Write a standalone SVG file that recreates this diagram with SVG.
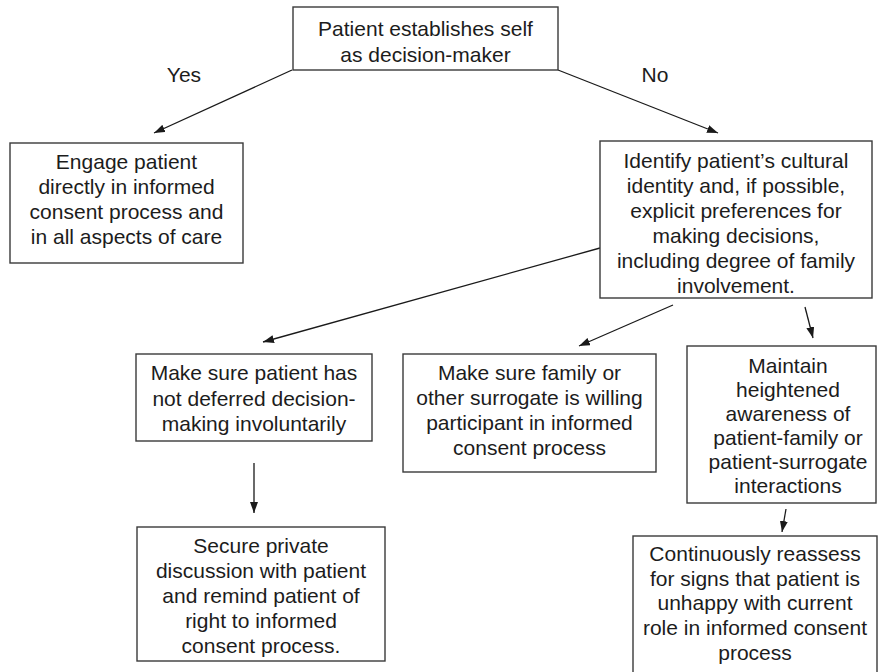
<svg xmlns="http://www.w3.org/2000/svg" width="879" height="672" viewBox="0 0 879 672">
  <style>
    .box { fill: #ffffff; stroke: #3a3a3a; stroke-width: 1.4; }
    .lbl { font-family: "Liberation Sans", Arial, sans-serif; font-size: 21px; fill: #1c1c1c; text-anchor: middle; }
    .edge { stroke: #1a1a1a; stroke-width: 1.3; fill: none; marker-end: url(#arrow); }
  </style>
  <defs>
    <marker id="arrow" markerUnits="userSpaceOnUse" markerWidth="12" markerHeight="8" refX="11" refY="4" orient="auto">
      <path d="M0,0 L11,4 L0,8 z" fill="#1a1a1a"/>
    </marker>
  </defs>
  <rect width="879" height="672" fill="#ffffff"/>

  <!-- connectors -->
  <g id="connectors">
    <line class="edge" x1="292" y1="70" x2="154" y2="133"/>
    <line class="edge" x1="558" y1="70" x2="718" y2="133"/>
    <line class="edge" x1="600" y1="248" x2="263" y2="342"/>
    <line class="edge" x1="673" y1="305" x2="579" y2="346"/>
    <line class="edge" x1="805" y1="307" x2="813" y2="338"/>
    <line class="edge" x1="254" y1="463" x2="254" y2="513"/>
    <line class="edge" x1="786" y1="509" x2="782" y2="532"/>
    <text class="lbl" x="184" y="82">Yes</text>
    <text class="lbl" x="655" y="82">No</text>
  </g>

  <g id="start">
    <rect class="box" x="293" y="7" width="265" height="63"/>
    <text class="lbl" x="425.5" y="36">Patient establishes self</text>
    <text class="lbl" x="425.5" y="62">as decision-maker</text>
  </g>

  <g id="engage">
    <rect class="box" x="10" y="143" width="233" height="120"/>
    <text class="lbl" x="126.5" y="169">Engage patient</text>
    <text class="lbl" x="126.5" y="194">directly in informed</text>
    <text class="lbl" x="126.5" y="219">consent process and</text>
    <text class="lbl" x="126.5" y="244">in all aspects of care</text>
  </g>

  <g id="identify">
    <rect class="box" x="600" y="141" width="272" height="157"/>
    <text class="lbl" x="736" y="168">Identify patient’s cultural</text>
    <text class="lbl" x="736" y="193">identity and, if possible,</text>
    <text class="lbl" x="736" y="218">explicit preferences for</text>
    <text class="lbl" x="736" y="243">making decisions,</text>
    <text class="lbl" x="736" y="268">including degree of family</text>
    <text class="lbl" x="736" y="293">involvement.</text>
  </g>

  <g id="not-deferred">
    <rect class="box" x="136" y="354" width="236" height="87"/>
    <text class="lbl" x="254" y="380">Make sure patient has</text>
    <text class="lbl" x="254" y="406">not deferred decision-</text>
    <text class="lbl" x="254" y="431">making involuntarily</text>
  </g>

  <g id="willing-surrogate">
    <rect class="box" x="403" y="354" width="253" height="118"/>
    <text class="lbl" x="529.5" y="380">Make sure family or</text>
    <text class="lbl" x="529.5" y="405">other surrogate is willing</text>
    <text class="lbl" x="529.5" y="430">participant in informed</text>
    <text class="lbl" x="529.5" y="455">consent process</text>
  </g>

  <g id="awareness">
    <rect class="box" x="687" y="346" width="189" height="157"/>
    <text class="lbl" x="788" y="373">Maintain</text>
    <text class="lbl" x="788" y="397">heightened</text>
    <text class="lbl" x="788" y="421">awareness of</text>
    <text class="lbl" x="788" y="445">patient-family or</text>
    <text class="lbl" x="788" y="469">patient-surrogate</text>
    <text class="lbl" x="788" y="493">interactions</text>
  </g>

  <g id="private-discussion">
    <rect class="box" x="137" y="527" width="248" height="134"/>
    <text class="lbl" x="261" y="553">Secure private</text>
    <text class="lbl" x="261" y="578">discussion with patient</text>
    <text class="lbl" x="261" y="603">and remind patient of</text>
    <text class="lbl" x="261" y="628">right to informed</text>
    <text class="lbl" x="261" y="653">consent process.</text>
  </g>

  <g id="reassess">
    <rect class="box" x="633" y="536" width="244" height="142"/>
    <text class="lbl" x="755" y="561">Continuously reassess</text>
    <text class="lbl" x="755" y="586">for signs that patient is</text>
    <text class="lbl" x="755" y="610">unhappy with current</text>
    <text class="lbl" x="755" y="635">role in informed consent</text>
    <text class="lbl" x="755" y="660">process</text>
  </g>
</svg>
